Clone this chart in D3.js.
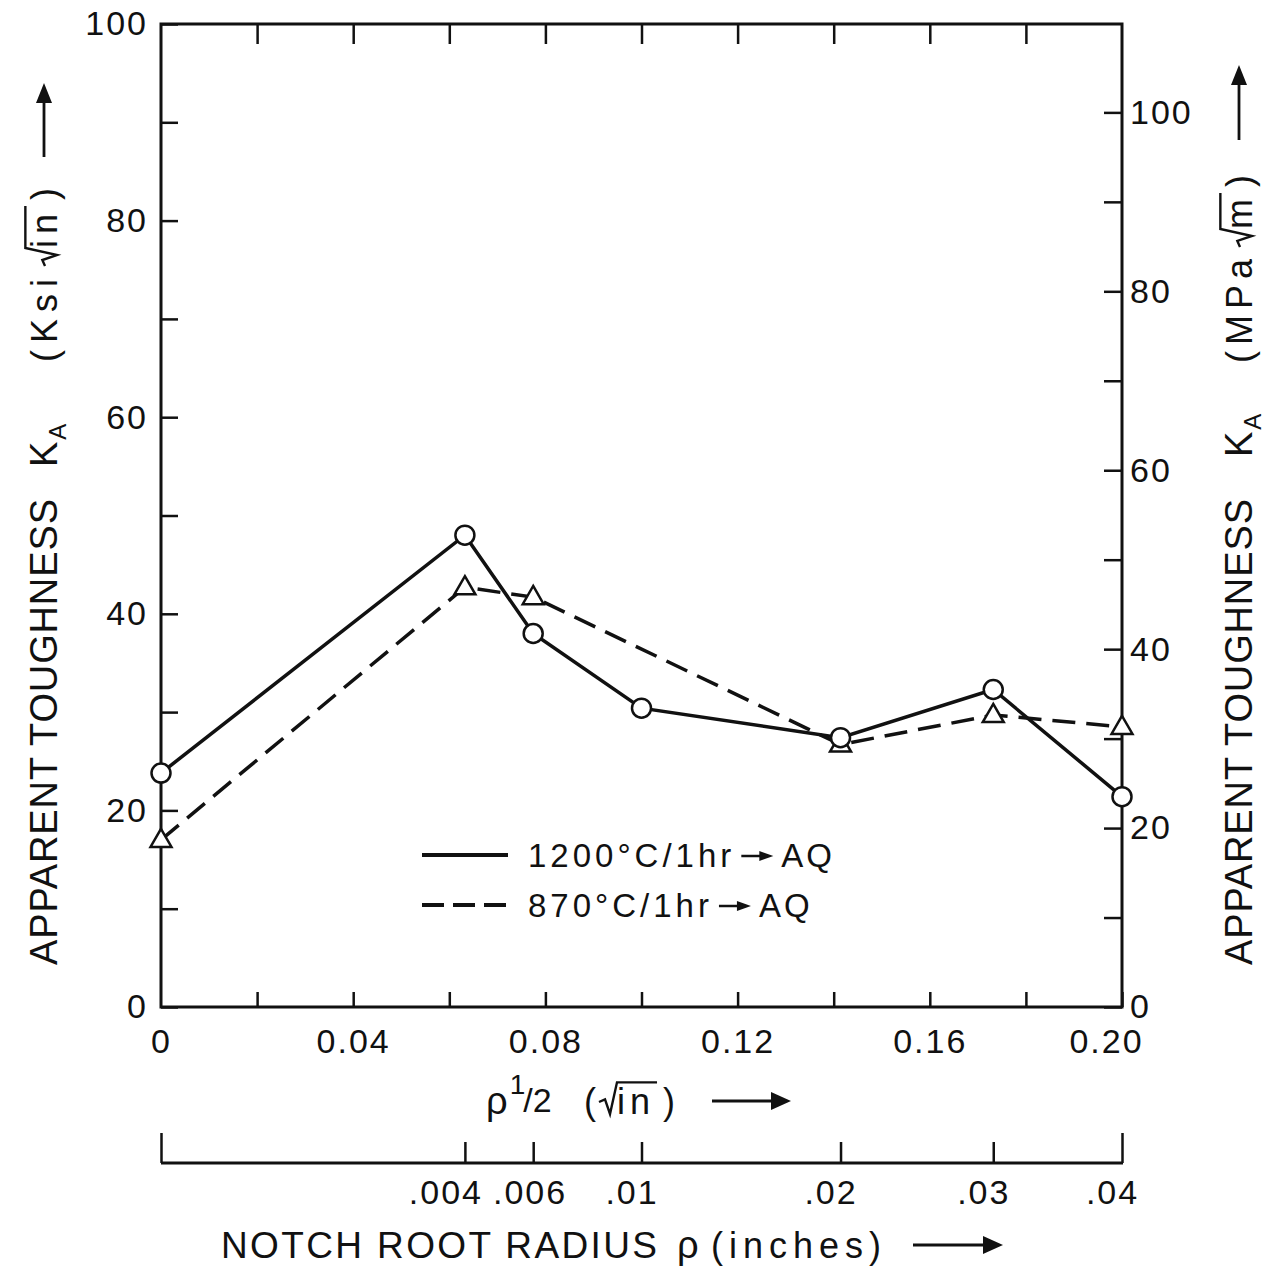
<!DOCTYPE html>
<html>
<head>
<meta charset="utf-8">
<script src="https://cdn.jsdelivr.net/npm/d3@7"></script>
<style>
  html, body { margin: 0; padding: 0; background: #fff; }
  svg { display: block; }
</style>
</head>
<body>
<script>
// Notch root radius (inches) at which each heat treatment was tested
const rho1200 = [0, 0.004, 0.006, 0.01, 0.02, 0.03, 0.04];
const ka1200 = [23.8, 48.0, 38.0, 30.4, 27.4, 32.3, 21.4];   // ksi·√in
const rho870 = [0, 0.004, 0.006, 0.02, 0.03, 0.04];
const ka870 = [17.0, 42.7, 41.7, 26.7, 29.7, 28.5];          // ksi·√in

const seriesNames = ["1200°C/1hr", "870°C/1hr"];
const seriesSuffix = "AQ";

const leftTicks = [0, 20, 40, 60, 80, 100];
const rightTicks = [0, 20, 40, 60, 80, 100];
const xTicks = [0, 0.04, 0.08, 0.12, 0.16, 0.20];
const xTickLabels = ["0", "0.04", "0.08", "0.12", "0.16", "0.20"];
const rhoTicks = [0.004, 0.006, 0.01, 0.02, 0.03, 0.04];
const rhoTickLabels = [".004", ".006", ".01", ".02", ".03", ".04"];

const KSI_TO_MPA = 1.0988;   // 1 ksi·√in = 1.0988 MPa·√m

const W = 1277, H = 1270;
const FONT = "'Liberation Sans', Arial, sans-serif";
const INK = "#111";

const svg = d3.select("body").append("svg")
  .attr("width", W).attr("height", H)
  .style("font-family", FONT);

svg.append("rect").attr("width", W).attr("height", H).attr("fill", "#fff");

const L = 161, R = 1122, T = 24, B = 1007;
const x = d3.scaleLinear([0, 0.2], [L, R]);
const y = d3.scaleLinear([0, 100], [B, T]);
const yR = d3.scaleLinear([0, 100 * KSI_TO_MPA], [B, T]);
const rhoScale = d3.scaleSqrt([0, 0.04], [L, R]);

function styleAxis(g, fs) {
  g.select(".domain").remove();
  g.selectAll(".tick line").attr("stroke", INK).attr("stroke-width", 2.5);
  g.selectAll(".tick text")
    .attr("fill", INK)
    .style("font-size", fs + "px")
    .style("letter-spacing", "2px")
    .style("font-family", FONT);
}

// Left axis: ksi·√in
const leftAll = d3.range(0, 101, 10);
svg.append("g").attr("transform", `translate(${L},0)`)
  .call(d3.axisLeft(y).tickValues(leftAll).tickSize(-17).tickPadding(13)
    .tickFormat(d => leftTicks.includes(d) ? String(d) : ""))
  .call(g => styleAxis(g, 34));

// Right axis: MPa·√m
const rightAll = d3.range(0, 101, 10);
svg.append("g").attr("transform", `translate(${R},0)`)
  .call(d3.axisRight(yR).tickValues(rightAll).tickSize(-18).tickPadding(8)
    .tickFormat(d => rightTicks.includes(d) ? String(d) : ""))
  .call(g => styleAxis(g, 34));

// Top ticks
svg.append("g").attr("transform", `translate(0,${T})`)
  .call(d3.axisTop(x).tickValues(d3.range(0.02, 0.2, 0.02)).tickSize(-20).tickFormat(""))
  .call(g => styleAxis(g, 34));

// Bottom axis: ρ^1/2
svg.append("g").attr("transform", `translate(0,${B})`)
  .call(d3.axisBottom(x).tickValues(d3.range(0, 0.201, 0.02)).tickSize(-15).tickPadding(22)
    .tickFormat(d => {
      const i = xTicks.findIndex(t => Math.abs(t - d) < 1e-9);
      return i >= 0 ? xTickLabels[i] : "";
    }))
  .call(g => styleAxis(g, 34))
  .call(g => g.selectAll(".tick").filter(d => d === 0).select("line").remove())
  .call(g => g.selectAll(".tick text").filter(d => Math.abs(d - 0.2) < 1e-9).attr("dx", -16));

// Plot frame
svg.append("rect")
  .attr("x", L).attr("y", T).attr("width", R - L).attr("height", B - T)
  .attr("fill", "none").attr("stroke", INK).attr("stroke-width", 3);

// Secondary scale: notch root radius ρ
const rhoY = 1163;
const rhoAxis = svg.append("g").attr("transform", `translate(0,${rhoY})`)
  .call(d3.axisBottom(rhoScale).tickValues([0].concat(rhoTicks)).tickSize(-21).tickPadding(17)
    .tickFormat(d => {
      const i = rhoTicks.indexOf(d);
      return i >= 0 ? rhoTickLabels[i] : "";
    }))
  .call(g => styleAxis(g, 34))
  .call(g => g.selectAll(".tick text").attr("dx", -10))
  .call(g => g.selectAll(".tick").filter(d => d === 0 || d === 0.04).select("line").attr("y2", -30));
svg.append("line")
  .attr("x1", rhoScale(0)).attr("x2", rhoScale(0.04) + 1)
  .attr("y1", rhoY).attr("y2", rhoY)
  .attr("stroke", INK).attr("stroke-width", 3);

// push apart tick labels that would collide on the square-root scale
(function separateLabels() {
  const texts = rhoAxis.selectAll(".tick text").filter(function () { return this.textContent; }).nodes();
  for (let i = 0; i < texts.length - 1; i++) {
    const a = texts[i].getBoundingClientRect(), b = texts[i + 1].getBoundingClientRect();
    const overlap = a.right - b.left + 10;
    if (overlap > 0) {
      const da = +d3.select(texts[i]).attr("dx") || 0;
      const db = +d3.select(texts[i + 1]).attr("dx") || 0;
      d3.select(texts[i]).attr("dx", da - overlap * 0.6);
      d3.select(texts[i + 1]).attr("dx", db + overlap * 0.4);
    }
  }
})();

// Data lines
const line = d3.line().x(d => x(Math.sqrt(d[0]))).y(d => y(d[1]));
const pts1200 = rho1200.map((r, i) => [r, ka1200[i]]);
const pts870 = rho870.map((r, i) => [r, ka870[i]]);

svg.append("path").datum(pts870).attr("d", line)
  .attr("fill", "none").attr("stroke", INK).attr("stroke-width", 3.5)
  .attr("stroke-dasharray", "23,11");
svg.append("path").datum(pts1200).attr("d", line)
  .attr("fill", "none").attr("stroke", INK).attr("stroke-width", 3.5);

const tri = d3.symbol().type(d3.symbolTriangle).size(190);
svg.append("g").selectAll("path").data(pts870).join("path")
  .attr("d", tri)
  .attr("transform", d => `translate(${x(Math.sqrt(d[0]))},${y(d[1]) + 1})`)
  .attr("fill", "#fff").attr("stroke", INK).attr("stroke-width", 2.5);

svg.append("g").selectAll("circle").data(pts1200).join("circle")
  .attr("cx", d => x(Math.sqrt(d[0]))).attr("cy", d => y(d[1])).attr("r", 9.5)
  .attr("fill", "#fff").attr("stroke", INK).attr("stroke-width", 2.5);

// ---- text helpers ----
function arrowHead(g, xTip, yMid, len, half) {
  g.append("path")
    .attr("d", `M${xTip},${yMid} L${xTip - len},${yMid - half} L${xTip - len},${yMid + half} Z`)
    .attr("fill", INK);
}
function arrow(g, x1, x2, yMid, len, half, sw) {
  g.append("line").attr("x1", x1).attr("x2", x2 - len + 2).attr("y1", yMid).attr("y2", yMid)
    .attr("stroke", INK).attr("stroke-width", sw);
  arrowHead(g, x2, yMid, len, half);
}
// writes a run of text starting at x0 on baseline 0 and returns the end x
function put(g, str, x0, fs, ls, extra) {
  const t = g.append("text").attr("x", x0).attr("y", (extra && extra.dy) || 0)
    .attr("fill", INK).style("font-size", fs + "px").style("letter-spacing", ls + "px")
    .text(str);
  if (extra && extra.len) {
    t.attr("textLength", extra.len).attr("lengthAdjust", "spacing");
    return x0 + extra.len;
  }
  return x0 + t.node().getComputedTextLength();
}
// radical sign with overline over the following run
function radical(g, x0, fs, body, ls) {
  const h = fs * 0.74;
  const start = x0 + 6;
  const endX = put(g, body, start + 18, fs, ls);
  g.append("path")
    .attr("d", `M${start},${-h * 0.45} L${start + 6},${-h * 0.55} L${start + 11},0 L${start + 18},${-h - 5} L${endX + 2},${-h - 5}`)
    .attr("fill", "none").attr("stroke", INK).attr("stroke-width", 2.4);
  return endX;
}

// Left title (rotated)
{
  const g = svg.append("g").attr("transform", "translate(57,965) rotate(-90)");
  put(g, "APPARENT TOUGHNESS", 0, 38, 2, { len: 468 });
  let cx = put(g, "K", 498, 38, 0);
  put(g, "A", cx + 2, 24, 0, { dy: 9 });
  cx = put(g, "(Ksi", 603, 36, 7);
  cx = radical(g, cx, 36, "in", 6);
  cx = put(g, ")", cx + 8, 36, 0);
  arrow(g, 808, 882, -13, 20, 8, 2.8);
}

// Right title (rotated)
{
  const g = svg.append("g").attr("transform", "translate(1252,965) rotate(-90)");
  put(g, "APPARENT TOUGHNESS", 0, 38, 2, { len: 468 });
  let cx = put(g, "K", 508, 38, 0);
  put(g, "A", cx + 2, 24, 0, { dy: 9 });
  cx = put(g, "(MPa", 602, 36, 6);
  cx = radical(g, cx, 36, "m", 4);
  cx = put(g, ")", cx + 8, 36, 0);
  arrow(g, 825, 900, -13, 20, 8, 2.8);
}

// x-axis title: ρ^1/2 (√in) →
{
  const g = svg.append("g").attr("transform", "translate(486,1114)");
  let cx = put(g, "ρ", 0, 38, 0);
  cx = put(g, "1", cx + 2, 28, 0, { dy: -20 });
  cx = put(g, "/2", cx - 2, 34, 0, { dy: -2 });
  cx = put(g, "(", 98, 36, 0);
  cx = radical(g, cx - 3, 36, "in", 5);
  cx = put(g, ")", cx + 8, 36, 0);
  arrow(g, 226, 305, -13, 20, 9, 3);
}

// bottom title
{
  const g = svg.append("g").attr("transform", "translate(221,1258)");
  put(g, "NOTCH ROOT RADIUS", 0, 37, 2, { len: 438 });
  put(g, "ρ", 456, 38, 0);
  put(g, "(inches)", 490, 36, 6);
  arrow(g, 692, 782, -13, 20, 9, 3);
}

// Legend
{
  const g = svg.append("g");
  const rows = [{ y: 855, dash: null, name: seriesNames[0] }, { y: 905, dash: "22,9", name: seriesNames[1] }];
  rows.forEach(r => {
    g.append("line").attr("x1", 422).attr("x2", 508).attr("y1", r.y).attr("y2", r.y)
      .attr("stroke", INK).attr("stroke-width", 4)
      .attr("stroke-dasharray", r.dash);
    const t = g.append("g").attr("transform", `translate(528,${r.y + 12})`);
    let cx = put(t, r.name, 0, 33, 4);
    arrow(t, cx + 6, cx + 38, -11, 14, 5, 2.5);
    put(t, seriesSuffix, cx + 46, 33, 3);
  });
}
</script>
</body>
</html>
